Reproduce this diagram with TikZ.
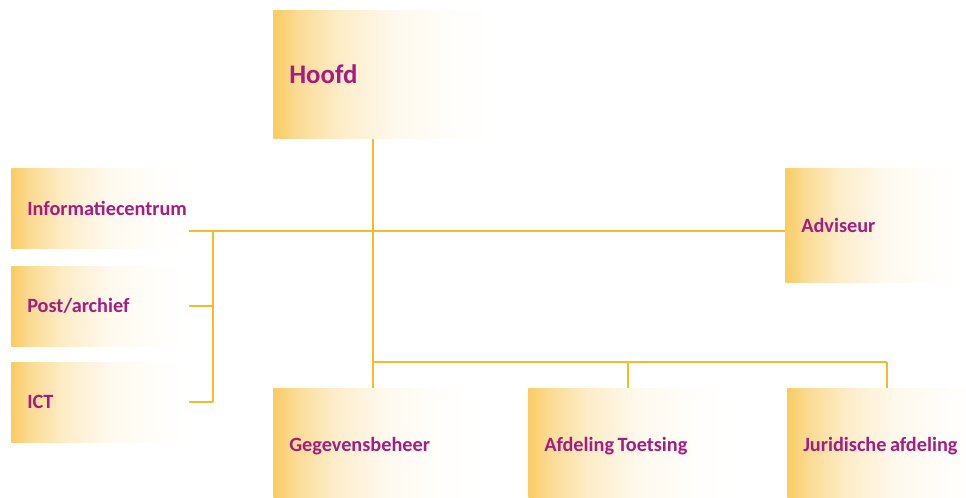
\documentclass[tikz,border=0pt]{standalone}
\usepackage{fontspec}
\setmainfont{Carlito}
\usetikzlibrary{calc}
\definecolor{boxorange}{RGB}{249,203,98}
\definecolor{linkorange}{RGB}{246,186,42}
\definecolor{namecolor}{RGB}{166,28,128}
\newcommand\unitfont{\bfseries\fontsize{15.2}{17}\selectfont}
\newcommand\headfont{\bfseries\fontsize{20.1}{24}\selectfont}
\pgfdeclarehorizontalshading{fade}{100bp}{color(0bp)=(boxorange); color(25bp)=(boxorange); color(30bp)=(boxorange!70); color(40bp)=(boxorange!35); color(52bp)=(boxorange!12); color(65bp)=(boxorange!3); color(75bp)=(white); color(100bp)=(white)}
\tikzset{
  unit/.style={shade, shading=fade, anchor=north west, inner xsep=12pt, inner ysep=0pt, align=left, text=namecolor, font=\unitfont, execute at begin node={\spaceskip=2.6pt\relax}},
  link/.style={draw=linkorange, line width=1.2pt}
}
\begin{document}
\begin{tikzpicture}[x=0.75pt,y=-0.75pt]
  \useasboundingbox (0,0) rectangle (966,498);
  \node[unit, text width=142.5pt, minimum height=96pt, font=\headfont] (hoofd) at (273,10) {Hoofd};
  \node[unit, text width=108.75pt, minimum height=60pt] (info) at (11,168) {Informatiecentrum};
  \node[unit, text width=108.75pt, minimum height=60pt] (post) at (11,266) {Post/archief};
  \node[unit, text width=108.75pt, minimum height=60pt] (ict) at (11,362) {ICT};
  \node[unit, text width=109.5pt, minimum height=85.5pt] (adviseur) at (785,168) {Adviseur};
  \node[unit, text width=126pt, minimum height=87pt] (gegevens) at (273,388) {Gegevensbeheer};
  \node[unit, text width=126pt, minimum height=87pt] (toetsing) at (528,388) {Afdeling Toetsing};
  \node[unit, text width=126pt, minimum height=87pt] (juridisch) at (787,388) {Juridische afdeling};
  \coordinate (staf) at (213,231);
  \coordinate (bus) at (373,362);
  \draw[link] (hoofd.south -| gegevens.north) -- (gegevens.north);
  \draw[link] (info.east |- staf) -- (adviseur.west |- staf);
  \draw[link] (staf) -- (staf |- ict.east);
  \foreach \n in {post,ict}
    \draw[link] (\n.east) -- (\n.east -| staf);
  \draw[link] (gegevens.north |- bus) -- (juridisch.north |- bus);
  \foreach \n in {toetsing,juridisch}
    \draw[link] (\n.north |- bus) -- (\n.north);
\end{tikzpicture}
\end{document}
